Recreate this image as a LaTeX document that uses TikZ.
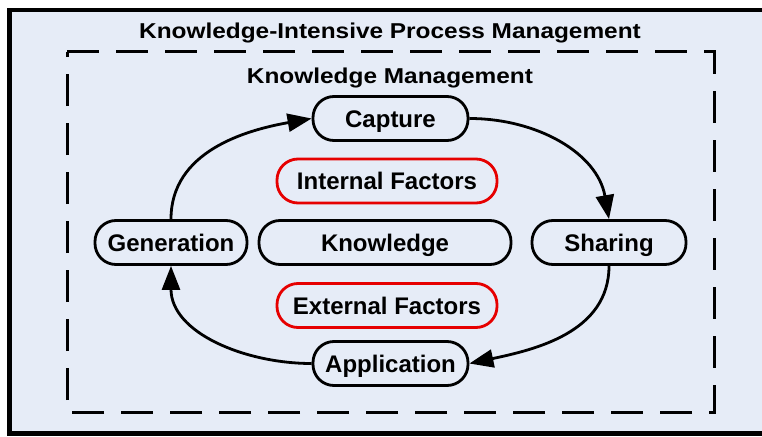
\documentclass[tikz,border=0pt]{standalone}
\usepackage{fontspec}
\setmainfont{Liberation Sans}
\usetikzlibrary{arrows.meta}
\definecolor{bgblue}{RGB}{230,236,247}
\definecolor{redline}{RGB}{230,0,0}
\newcommand{\wide}[1]{\scalebox{1.135}[1]{#1}}
\tikzset{
  x=1pt,y=-1pt,
  pill/.style={rectangle, rounded corners=21pt, draw=black, line width=2.8pt, minimum height=44pt, inner sep=0pt, text height=17.2pt, text depth=0pt, font=\bfseries\fontsize{24}{28}\selectfont},
  redpill/.style={pill, draw=redline},
  flow/.style={line width=2.8pt, -{Triangle[length=24pt,width=18pt]}},
  titletext/.style={inner sep=0pt, text height=15.4pt, text depth=0pt, font=\bfseries\fontsize{21.5}{24}\selectfont}
}
\begin{document}
\begin{tikzpicture}
\useasboundingbox (0,0) rectangle (762,436);
\fill[white] (0,0) rectangle (762,436);
\draw[line width=4.5pt, fill=bgblue] (9.5,10) rectangle (780,433.5);
\node[titletext] (title) at (390,31) {\wide{Knowledge-Intensive Process Management}};
\draw[line width=3pt, dash pattern=on 32pt off 17pt] (67,52) -- (714,52) -- (714,412) -- (67,412) -- cycle;
\node[titletext] (km) at (390,75.5) {\wide{Knowledge Management}};
\node[pill, minimum width=155pt] (capture) at (390.5,118.5) {Capture};
\node[redpill, minimum width=220pt] (internal) at (387,181) {Internal Factors};
\node[pill, minimum width=252pt] (knowledge) at (385,242.5) {Knowledge};
\node[pill, minimum width=152pt] (generation) at (171,242.5) {Generation};
\node[pill, minimum width=154pt] (sharing) at (609,242.5) {Sharing};
\node[redpill, minimum width=220pt] (external) at (387,305.5) {External Factors};
\node[pill, minimum width=155pt] (application) at (390.5,363.5) {Application};
\draw[flow] (capture.east) to[out=0,in=100] (sharing.north);
\draw[flow] (sharing.south) to[out=-90,in=12] (application.east);
\draw[flow] (application.west) to[out=180,in=-90] (generation.south);
\draw[flow] (generation.north) to[out=90,in=190] (capture.west);
\end{tikzpicture}
\end{document}
